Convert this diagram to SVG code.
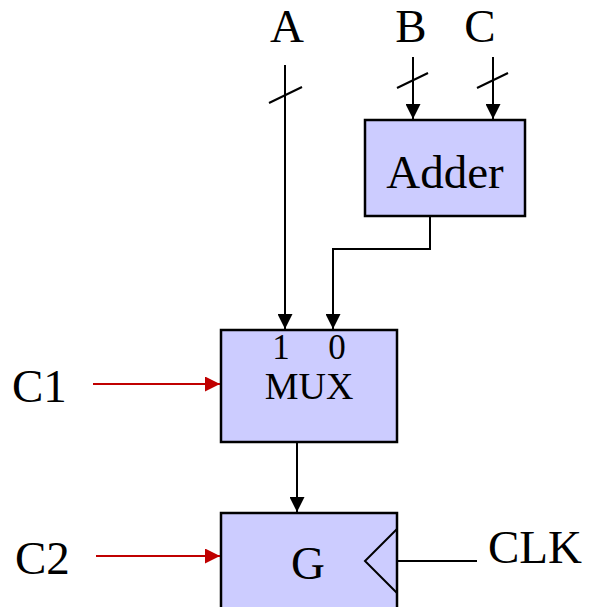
<svg xmlns="http://www.w3.org/2000/svg" width="590" height="607" viewBox="0 0 590 607">
<style>
.box{fill:#ccccff;stroke:#000;stroke-width:2.5}
.w{fill:none;stroke:#000;stroke-width:2}
.r{fill:none;stroke:#c00000;stroke-width:2}
text{font-family:"Liberation Serif","Times New Roman",serif;fill:#000}
.lbl{font-size:47px}
</style>
<defs>
<marker id="ab" markerWidth="15" markerHeight="15" refX="15" refY="7.5" orient="auto" markerUnits="userSpaceOnUse" viewBox="0 0 15 15"><path d="M0,0 L15,7.5 L0,15 Z" fill="#000"/></marker>
<marker id="ar" markerWidth="15" markerHeight="15" refX="15" refY="7.5" orient="auto" markerUnits="userSpaceOnUse" viewBox="0 0 15 15"><path d="M0,0 L15,7.5 L0,15 Z" fill="#c00000"/></marker>
</defs>
<g id="labels">
<text class="lbl" x="287" y="42" text-anchor="middle">A</text>
<text class="lbl" x="411" y="42" text-anchor="middle">B</text>
<text class="lbl" x="480" y="42" text-anchor="middle">C</text>
<text class="lbl" x="12" y="402">C1</text>
<text class="lbl" x="15" y="574">C2</text>
<text class="lbl" x="488" y="563">CLK</text>
</g>
<g id="adder">
<rect class="box" x="365" y="120" width="160" height="96"/>
<text x="445" y="188" font-size="47" text-anchor="middle">Adder</text>
</g>
<g id="mux">
<rect class="box" x="221" y="330" width="176" height="112"/>
<text x="281" y="359" font-size="35" text-anchor="middle">1</text>
<text x="337" y="359" font-size="35" text-anchor="middle">0</text>
<text x="309" y="399" font-size="38" text-anchor="middle">MUX</text>
</g>
<g id="g">
<rect class="box" x="221" y="513" width="176" height="100"/>
<text x="308" y="579" font-size="47" text-anchor="middle">G</text>
<polyline class="w" points="397,529 365,561 397,593"/>
</g>
<g id="connectors">
<line class="w" x1="285" y1="65" x2="285" y2="329" marker-end="url(#ab)"/>
<line class="w" x1="269" y1="103" x2="302" y2="87"/>
<line class="w" x1="413" y1="57" x2="413" y2="119" marker-end="url(#ab)"/>
<line class="w" x1="397" y1="88" x2="428" y2="73"/>
<line class="w" x1="493" y1="57" x2="493" y2="119" marker-end="url(#ab)"/>
<line class="w" x1="477" y1="88" x2="508" y2="73"/>
<polyline class="w" points="430,216 430,249 333,249 333,329" marker-end="url(#ab)"/>
<line class="r" x1="93" y1="384" x2="220" y2="384" marker-end="url(#ar)"/>
<line class="w" x1="297" y1="442" x2="297" y2="512" marker-end="url(#ab)"/>
<line class="r" x1="96" y1="556" x2="220" y2="556" marker-end="url(#ar)"/>
<line class="w" x1="397" y1="561" x2="477" y2="561"/>
</g>
</svg>
